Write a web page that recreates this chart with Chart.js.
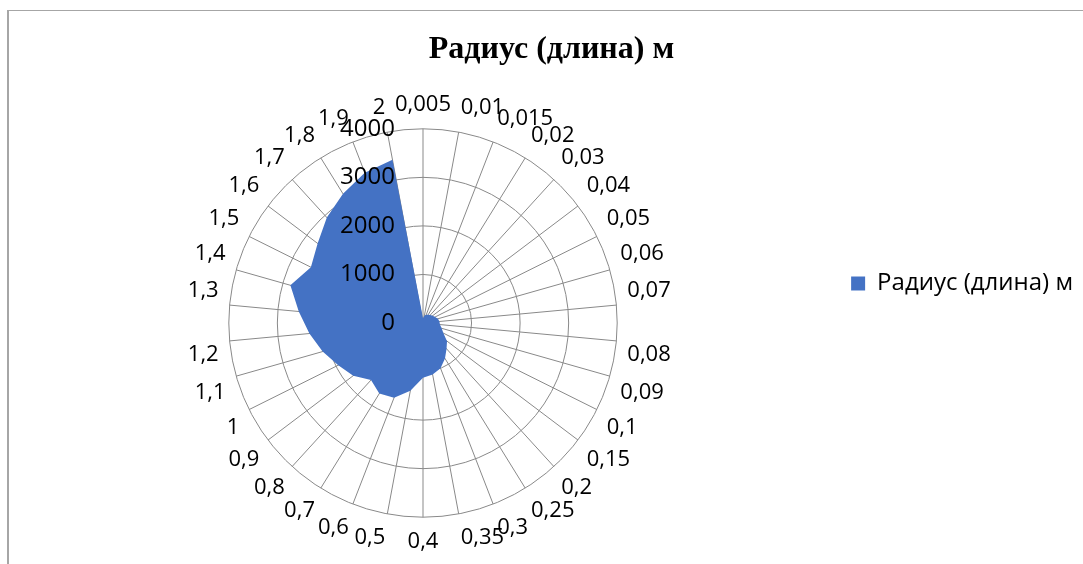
<!DOCTYPE html>
<html>
<head>
<meta charset="utf-8">
<script src="https://cdn.jsdelivr.net/npm/chart.js@4.4.0/dist/chart.umd.min.js"></script>
<style>
  body { margin: 0; background: #fff; }
  #frame {
    position: absolute; left: 7px; top: 10px; width: 1076px; height: 554px;
    border-left: 2px solid #a6a6a6; border-top: 1px solid #a6a6a6;
  }
</style>
</head>
<body>
<div id="frame"><canvas id="my-chart" width="1074" height="553"></canvas></div>
<script>
const categories = ['0,005', '0,01', '0,015', '0,02', '0,03', '0,04', '0,05', '0,06', '0,07', '0,08',
  '0,09', '0,1', '0,15', '0,2', '0,25', '0,3', '0,35', '0,4', '0,5', '0,6', '0,7', '0,8', '0,9',
  '1', '1,1', '1,2', '1,3', '1,4', '1,5', '1,6', '1,7', '1,8', '1,9', '2'];
const radiusValues = [100, 150, 180, 200, 220, 250, 280, 320, 340, 350,
  400, 470, 620, 720, 860, 1000, 1080, 1130, 1420, 1650, 1710, 1590, 1800,
  1950, 2150, 2350, 2570, 2840, 2580, 2720, 2940, 3130, 3320, 3420];
const tickLabels = ['0', '1000', '2000', '3000', '4000'];
const seriesName = 'Радиус (длина) м';

// Excel puts the value labels left of the vertical axis, so draw them ourselves
const tickLabelPlugin = {
  id: 'tickLabels',
  afterDraw(chart) {
    const scale = chart.scales.r;
    const ctx = chart.ctx;
    ctx.save();
    ctx.font = '24px "Open Sans", sans-serif';
    ctx.fillStyle = '#000';
    ctx.textAlign = 'right';
    ctx.textBaseline = 'middle';
    scale.ticks.forEach((t, i) => {
      const pos = scale.getPointPosition(0, scale.getDistanceFromCenterForValue(t.value));
      ctx.fillText(tickLabels[i], pos.x - 28, pos.y);
    });
    ctx.restore();
  }
};

const ctx = document.getElementById('my-chart').getContext('2d');
const chart = new Chart(ctx, {
  type: 'radar',
  data: {
    labels: categories,
    datasets: [{
      label: seriesName,
      data: radiusValues,
      backgroundColor: '#4472C4',
      borderColor: '#4472C4',
      borderWidth: 0,
      pointRadius: 0,
      fill: true
    }]
  },
  options: {
    responsive: false,
    animation: false,
    layout: { padding: { left: 11, right: 0, top: 0, bottom: 8 } },
    plugins: {
      title: {
        display: true,
        text: seriesName,
        color: '#000',
        font: { family: '"Liberation Serif", serif', size: 32, weight: 'bold' },
        padding: { top: 20, bottom: 22 }
      },
      legend: {
        position: 'right',
        labels: {
          color: '#000',
          font: { family: '"Open Sans", sans-serif', size: 24 },
          boxWidth: 14,
          boxHeight: 14,
          padding: 24
        }
      },
      tooltip: { enabled: false }
    },
    scales: {
      r: {
        min: 0,
        max: 4000,
        ticks: { stepSize: 1000, display: false },
        grid: { circular: true, color: '#898989', lineWidth: 1 },
        angleLines: { color: '#898989', lineWidth: 1 },
        pointLabels: {
          color: '#000',
          font: { family: '"Open Sans", sans-serif', size: 22 },
          padding: 11
        }
      }
    }
  },
  plugins: [tickLabelPlugin]
});
</script>
</body>
</html>
